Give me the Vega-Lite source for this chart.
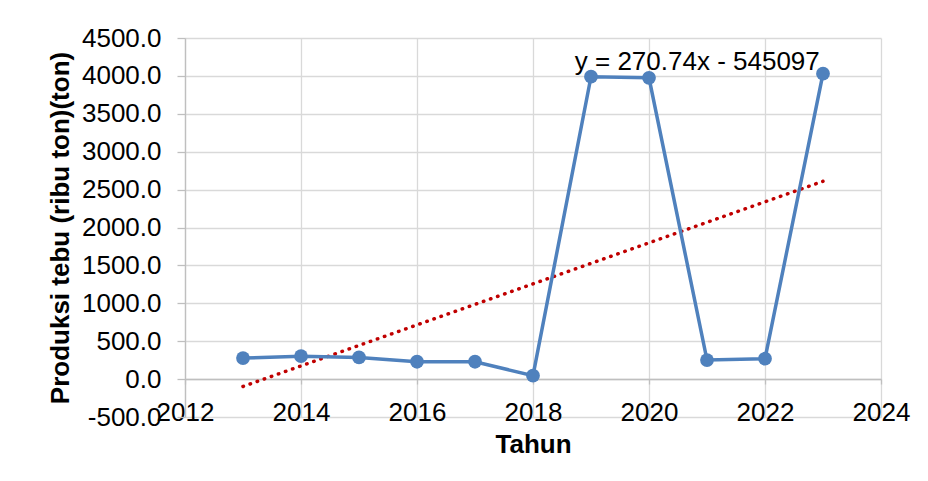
{
  "$schema": "https://vega.github.io/schema/vega-lite/v6.json",
  "width": 696,
  "height": 379,
  "autosize": {"type": "none"},
  "padding": {"left": 185, "top": 38, "right": 47, "bottom": 64},
  "background": "white",
  "config": {
    "view": {"stroke": null},
    "font": "Liberation Sans",
    "axis": {
      "labelFont": "Liberation Sans",
      "titleFont": "Liberation Sans",
      "labelFontSize": 26,
      "titleFontSize": 26,
      "titleFontWeight": "bold",
      "labelColor": "black",
      "titleColor": "black",
      "gridColor": "#d9d9d9",
      "gridWidth": 1.3,
      "domainColor": "#bfbfbf",
      "domainWidth": 1.3,
      "tickColor": "#bfbfbf",
      "tickWidth": 1.3,
      "labelOverlap": false
    }
  },
  "datasets": {
    "prod": [
      {"Tahun": 2013, "Produksi": 277},
      {"Tahun": 2014, "Produksi": 303},
      {"Tahun": 2015, "Produksi": 286},
      {"Tahun": 2016, "Produksi": 229},
      {"Tahun": 2017, "Produksi": 229},
      {"Tahun": 2018, "Produksi": 45},
      {"Tahun": 2019, "Produksi": 3990},
      {"Tahun": 2020, "Produksi": 3975},
      {"Tahun": 2021, "Produksi": 251},
      {"Tahun": 2022, "Produksi": 269},
      {"Tahun": 2023, "Produksi": 4030}
    ],
    "trend": [
      {"Tahun": 2013, "Produksi": -97.4},
      {"Tahun": 2023, "Produksi": 2610.0}
    ],
    "eq": [
      {"Tahun": 2018.72, "Produksi": 4082, "label": "y = 270.74x - 545097"}
    ]
  },
  "layer": [
    {
      "data": {"name": "trend"},
      "mark": {"type": "line", "color": "#c00000", "strokeWidth": 3.5, "strokeDash": [0.5, 7], "strokeCap": "round"},
      "encoding": {
        "x": {"field": "Tahun", "type": "quantitative", "scale": {"domain": [2012, 2024], "nice": false, "zero": false},
          "axis": {"values": [2012, 2014, 2016, 2018, 2020, 2022, 2024], "tickCount": 20, "format": "d", "title": "Tahun", "offset": -38, "tickSize": 5, "labelPadding": 15, "titlePadding": 6, "grid": true, "labelFlush": false}},
        "y": {"field": "Produksi", "type": "quantitative", "scale": {"domain": [-500, 4500], "nice": false, "zero": false},
          "axis": {"values": [-500, 0, 500, 1000, 1500, 2000, 2500, 3000, 3500, 4000, 4500], "tickCount": 20, "labelExpr": "datum.value < 0 ? '-' + format(-datum.value, '.1f') : format(datum.value, '.1f')", "title": "Produksi tebu (ribu ton)(ton)", "tickSize": 8, "labelPadding": 16, "titlePadding": 8, "grid": true, "labelFlush": false}}
      }
    },
    {
      "data": {"name": "prod"},
      "mark": {"type": "line", "color": "#4f81bd", "strokeWidth": 3.5, "point": {"filled": true, "size": 190, "color": "#4f81bd", "opacity": 1}},
      "encoding": {
        "x": {"field": "Tahun", "type": "quantitative"},
        "y": {"field": "Produksi", "type": "quantitative"}
      }
    },
    {
      "data": {"name": "eq"},
      "mark": {"type": "text", "align": "left", "baseline": "alphabetic", "fontSize": 26, "font": "Liberation Sans", "color": "black"},
      "encoding": {
        "x": {"field": "Tahun", "type": "quantitative"},
        "y": {"field": "Produksi", "type": "quantitative"},
        "text": {"field": "label"}
      }
    }
  ]
}
